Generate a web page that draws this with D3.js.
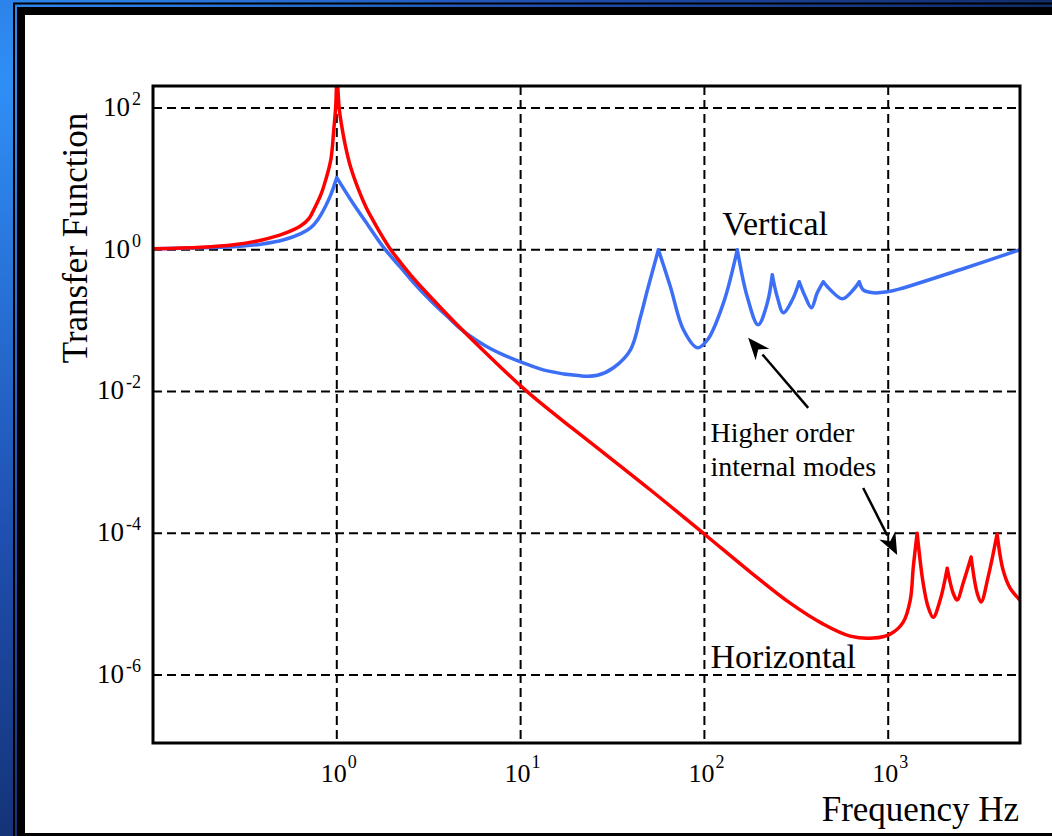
<!DOCTYPE html>
<html>
<head>
<meta charset="utf-8">
<script src="https://cdn.jsdelivr.net/npm/d3@7"></script>
<style>
  html, body { margin: 0; padding: 0; overflow: hidden; }
  body { width: 1052px; height: 836px; }
  text { font-family: "Liberation Serif", "Times New Roman", serif; fill: #000; }
</style>
</head>
<body>
<svg id="chart" width="1052" height="836"></svg>
<script>
// values: [frequency Hz, transfer function]
const horizontalPoints = [
  [0.1, 1.033], [0.182, 1.085], [0.275, 1.177], [0.386, 1.362], [0.515, 1.683],
  [0.637, 2.18], [0.705, 2.74], [0.759, 3.92], [0.819, 5.98], [0.871, 9.75],
  [0.928, 18.7], [0.963, 49.5], [0.9875, 112], [1.0, 400],
  [1.032, 95], [1.065, 54.6], [1.119, 27.6], [1.191, 14.4], [1.3, 7.51],
  [1.438, 4.05], [1.589, 2.49], [1.757, 1.58], [1.966, 1.0], [2.228, 0.655],
  [2.525, 0.439], [3.046, 0.255], [3.674, 0.152], [4.434, 0.0916], [5.35, 0.0562],
  [6.45, 0.0351], [7.79, 0.022], [10, 0.012], [12.84, 0.0069], [18.7, 0.00316],
  [27.2, 0.001476], [50.9, 4.07e-4], [101.3, 9.44e-5], [177.8, 2.83e-5], [293, 1.03e-5],
  [443, 5.22e-6], [621, 3.53e-6], [828, 3.31e-6], [1025, 3.77e-6], [1207, 5.57e-6],
  [1318, 1.14e-5], [1369, 3.33e-5], [1437, 1.0e-4], [1549, 1.98e-5], [1649, 9.1e-6],
  [1757, 6.5e-6], [1917, 1.14e-5], [2094, 3.2e-5], [2256, 1.43e-5], [2371, 1.14e-5],
  [2558, 1.98e-5], [2826, 4.6e-5], [3048, 1.43e-5], [3201, 1.07e-5], [3494, 2.4e-5],
  [3911, 9.75e-5], [4217, 3.02e-5], [4603, 1.68e-5], [5212, 1.14e-5]
];
const verticalPoints = [
  [0.1, 1.03], [0.275, 1.1], [0.386, 1.196], [0.515, 1.38], [0.637, 1.683],
  [0.722, 2.046], [0.788, 2.65], [0.871, 4.18], [0.928, 5.98], [1.0, 10.4],
  [1.19, 5.08], [1.473, 2.25], [1.8, 1.07],
  [2.23, 0.557], [2.62, 0.342], [3.243, 0.1905], [4.01, 0.113], [4.72, 0.0766],
  [5.69, 0.0536], [6.87, 0.04], [8.29, 0.0318], [10, 0.0262], [14, 0.0195],
  [21.2, 0.0166], [26.2, 0.0169], [32, 0.0216],
  [39.6, 0.0387], [44.9, 0.113], [49, 0.272], [56.2, 1.0], [65.3, 0.3],
  [76.9, 0.0741], [91.6, 0.0413], [104, 0.0536], [127, 0.178], [151, 1.0],
  [171, 0.217], [196, 0.0873], [220, 0.178], [234, 0.444], [249, 0.217],
  [269, 0.129], [301, 0.197], [328, 0.353], [354, 0.217], [382, 0.152],
  [411, 0.247], [443, 0.353], [484, 0.272], [563, 0.203], [646, 0.272],
  [696, 0.353], [731, 0.272], [828, 0.247], [988, 0.255], [1161, 0.281],
  [2462, 0.522], [5212, 1.0]
];
const xTickExps = [0, 1, 2, 3];
const yTickExps = [2, 0, -2, -4, -6];

// annotations in data coordinates
const labels = [
  { text: "Vertical", f: 125, v: 1.63 },
  { text: "Horizontal", f: 108, v: 1.25e-6 }
];
const noteLines = ["Higher order", "internal modes"];
const noteAt = { f: 108, v: 1.94e-3 };
const arrows = [
  { from: [367, 0.00586], to: [173, 0.0572] },
  { from: [731, 4.35e-4], to: [1119, 4.92e-5] }
];

const W = 1052, H = 836;
const plot = { left: 153, right: 1020, top: 86, bottom: 743 };

const svg = d3.select("#chart");
const defs = svg.append("defs");

// slide background
const bg = defs.append("radialGradient").attr("id", "bg")
  .attr("cx", "0%").attr("cy", "10%").attr("r", "120%");
bg.append("stop").attr("offset", "0%").attr("stop-color", "#2f8ff7");
bg.append("stop").attr("offset", "45%").attr("stop-color", "#1f4fb0");
bg.append("stop").attr("offset", "100%").attr("stop-color", "#0b1d4a");
svg.append("rect").attr("width", W).attr("height", H).attr("fill", "url(#bg)");

// frame of the white panel
svg.append("rect").attr("x", 14).attr("y", 3.5).attr("width", W).attr("height", H)
  .attr("fill", "none").attr("stroke", "#000").attr("stroke-width", 2);
svg.append("rect").attr("x", 17).attr("y", 7).attr("width", W).attr("height", H)
  .attr("fill", "#000");
svg.append("rect").attr("x", 25).attr("y", 15).attr("width", W).attr("height", 818)
  .attr("fill", "#fff");

defs.append("clipPath").attr("id", "clip").append("rect")
  .attr("x", plot.left).attr("y", plot.top)
  .attr("width", plot.right - plot.left).attr("height", plot.bottom - plot.top);

const x = d3.scaleLog().domain([0.1, 5212]).range([plot.left, plot.right]);
const y = d3.scaleLog().domain([Math.pow(10, -6.96), Math.pow(10, 2.31)]).range([plot.bottom, plot.top]);

// dashed grid
const grid = svg.append("g").attr("stroke", "#000").attr("stroke-width", 2)
  .attr("stroke-dasharray", "9,5");
grid.selectAll(".gx").data(xTickExps).join("line")
  .attr("x1", d => x(Math.pow(10, d))).attr("x2", d => x(Math.pow(10, d)))
  .attr("y1", plot.top).attr("y2", plot.bottom);
grid.selectAll(".gy").data(yTickExps).join("line")
  .attr("y1", d => y(Math.pow(10, d))).attr("y2", d => y(Math.pow(10, d)))
  .attr("x1", plot.left).attr("x2", plot.right);

// curves: smooth between points, sharp cusp at every resonance peak
const line = d3.line()
  .x(d => x(d[0])).y(d => y(d[1]))
  .curve(d3.curveCatmullRom.alpha(0.5));
function peakedPath(pts) {
  const parts = [];
  let seg = [pts[0]];
  for (let i = 1; i < pts.length; i++) {
    seg.push(pts[i]);
    const isPeak = i < pts.length - 1 && pts[i][1] > pts[i - 1][1] && pts[i][1] > pts[i + 1][1];
    if (isPeak) { parts.push(seg); seg = [pts[i]]; }
  }
  parts.push(seg);
  return parts.map(s => line(s)).join("");
}
const curves = svg.append("g").attr("clip-path", "url(#clip)").attr("fill", "none")
  .attr("stroke-width", 3.5).attr("stroke-linejoin", "round").attr("stroke-linecap", "round");
curves.append("path").attr("d", peakedPath(verticalPoints)).attr("stroke", "#3c6ff5");
curves.append("path").attr("d", peakedPath(horizontalPoints)).attr("stroke", "#ff0000");

// plot border
svg.append("rect").attr("x", plot.left).attr("y", plot.top)
  .attr("width", plot.right - plot.left).attr("height", plot.bottom - plot.top)
  .attr("fill", "none").attr("stroke", "#000").attr("stroke-width", 3);

// tick labels
const xl = svg.selectAll(".xl").data(xTickExps).join("text")
  .attr("x", d => x(Math.pow(10, d)) + 2).attr("y", 782)
  .attr("text-anchor", "middle").attr("font-size", 26);
xl.append("tspan").text("10");
xl.append("tspan").attr("dx", 1).attr("dy", -14).attr("font-size", 18).text(d => d);

const yl = svg.selectAll(".yl").data(yTickExps).join("text")
  .attr("x", 141).attr("y", d => y(Math.pow(10, d)) + 8)
  .attr("text-anchor", "end").attr("font-size", 27);
yl.append("tspan").text("10");
yl.append("tspan").attr("dx", 2).attr("dy", -11).attr("font-size", 18).text(d => d);

// axis titles
svg.append("text").attr("x", 1019).attr("y", 821).attr("text-anchor", "end")
  .attr("font-size", 35).text("Frequency Hz");
svg.append("text").attr("transform", "translate(87,238) rotate(-90)")
  .attr("text-anchor", "middle").attr("font-size", 35).text("Transfer Function");

// series labels
svg.selectAll(".lab").data(labels).join("text")
  .attr("x", d => x(d.f)).attr("y", d => y(d.v))
  .attr("font-size", 34).text(d => d.text);

svg.append("g").selectAll("text").data(noteLines).join("text")
  .attr("x", x(noteAt.f)).attr("y", (d, i) => y(noteAt.v) + i * 34)
  .attr("font-size", 28).text(d => d);

// arrows
arrows.forEach(a => {
  const x0 = x(a.from[0]), y0 = y(a.from[1]);
  const x1 = x(a.to[0]), y1 = y(a.to[1]);
  const ang = Math.atan2(y1 - y0, x1 - x0);
  const len = 22, half = 9;
  const bx = x1 - len * Math.cos(ang), by = y1 - len * Math.sin(ang);
  svg.append("line").attr("x1", x0).attr("y1", y0).attr("x2", bx).attr("y2", by)
    .attr("stroke", "#000").attr("stroke-width", 2.5);
  svg.append("polygon")
    .attr("points", [
      [x1, y1],
      [bx + half * Math.sin(ang), by - half * Math.cos(ang)],
      [x1 - len * 0.7 * Math.cos(ang), y1 - len * 0.7 * Math.sin(ang)],
      [bx - half * Math.sin(ang), by + half * Math.cos(ang)]
    ].map(p => p.join(",")).join(" "))
    .attr("fill", "#000");
});
</script>
</body>
</html>
